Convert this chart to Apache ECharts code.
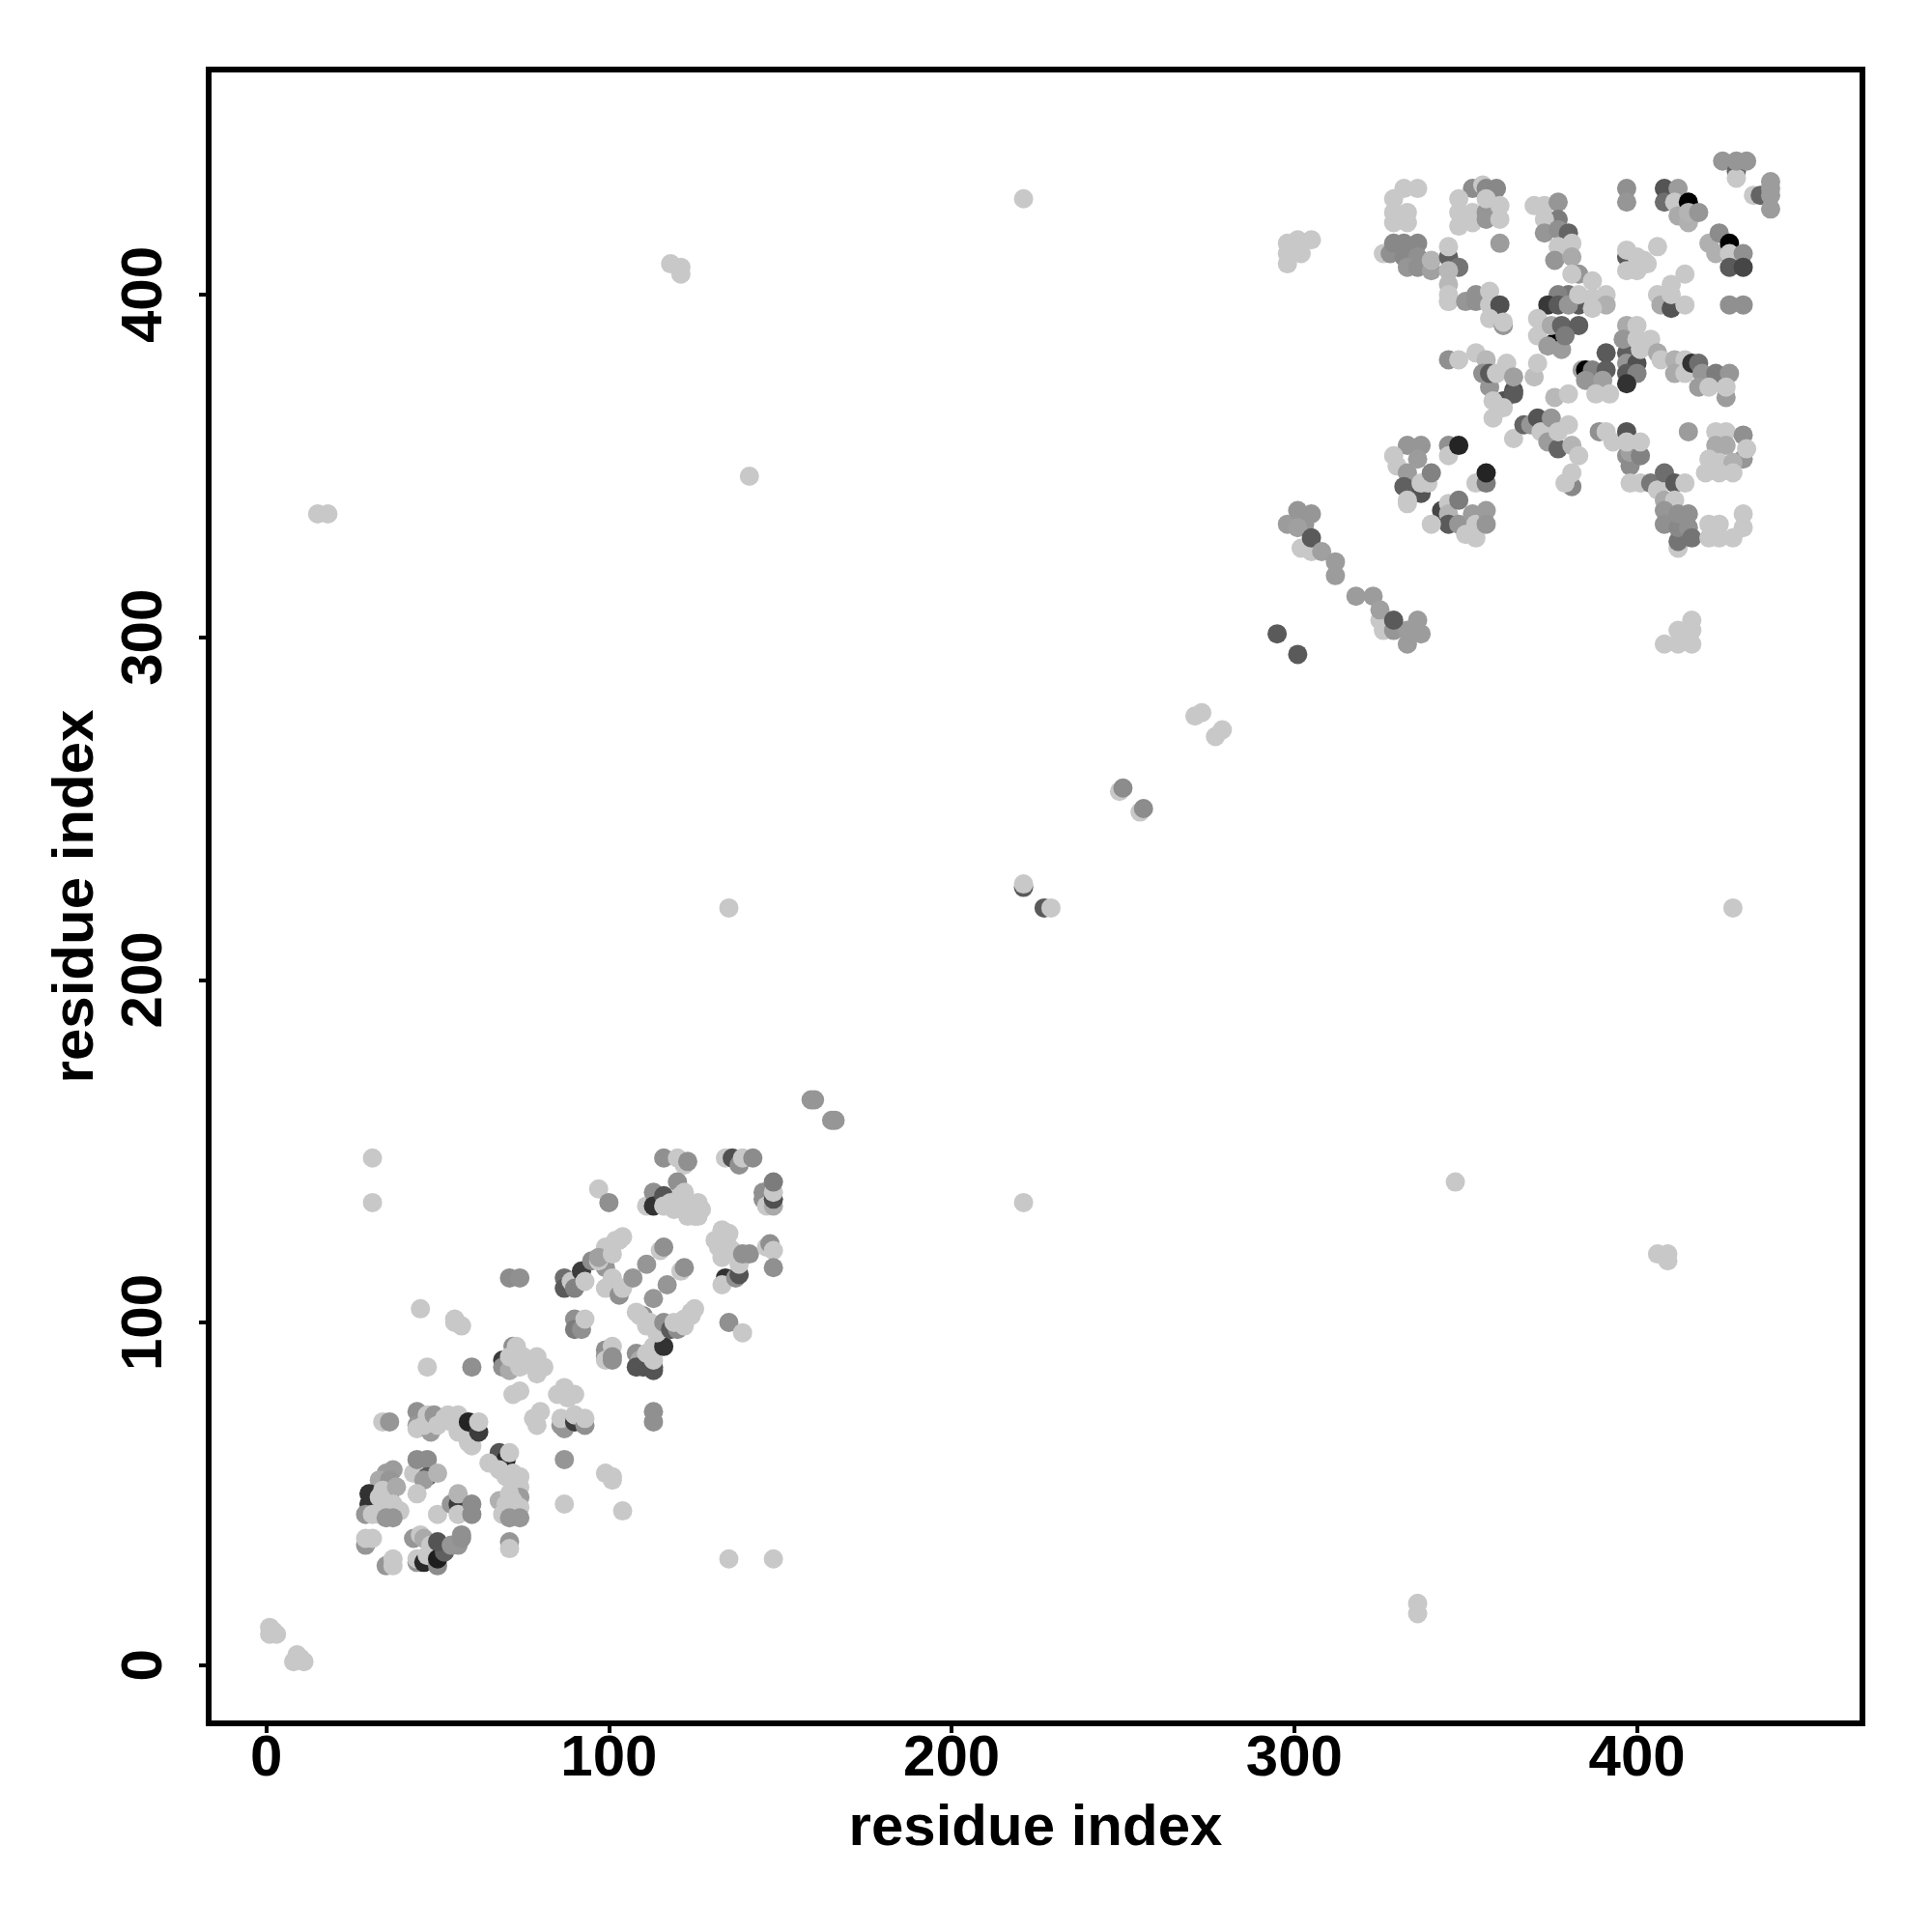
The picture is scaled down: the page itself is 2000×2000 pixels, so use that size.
<!DOCTYPE html>
<html><head><meta charset="utf-8">
<style>html,body{margin:0;padding:0;background:#fff}#c{width:2000px;height:2000px}</style>
<script src="https://cdn.jsdelivr.net/npm/echarts@6/dist/echarts.min.js"></script>
</head><body><div id="c"></div>
<script>
// rows: [residue i, residue j, contact value] ; value 0 = black ... 100 = lightest
const tickValues = [0,100,200,300,400];
const axisTitle = 'residue index';

const farContacts = [
[15,336,100],[18,336,100],[141,347,100],[221,428,100],[118,409,100],[121,406,100],[121,408,100],
[135,221,100],[428,221,100],[221,135,100],[347,141,100],[406,120,100],[409,118,100],[409,120,100],
[31,148,100],[31,135,100],[135,31,100],[148,31,100],[336,18,100],[336,15,100]
];
const originContacts = [[1,11,100],[1,9,100],[3,9,100],[2,10,100],[8,1,100],[9,3,100],[10,2,100],[11,1,100]];
const diagonalChain = [
[159,165,75],[160,165,75],[165,159,75],[166,159,75],
[221,227,45],[221,228,100],[227,221,45],[229,221,100],
[249,255,100],[250,256,70],[255,249,100],[256,250,70],
[271,277,100],[273,278,100],[277,271,100],[279,273,100],
[295,301,45],[301,295,45]
];
const chainUpper = [
[298,333,78],[301,337,75],[305,336,75],[303,333,75],[301,332,80],[302,326,100],[305,325,100],[305,329,45],[308,325,80],
[312,322,78],[312,318,78],[318,312,78],[323,312,78],[326,302,100],[325,305,100],[325,308,80],[329,302,75],
[333,302,78],[336,305,78],[337,301,78],[333,298,78],[329,305,45],
[345,398,100]
];
const blockTopLeft = [
[298,415,100],[301,416,100],[305,416,100],[298,412,100],[302,412,100],[298,409,100],[326,412,100],
[336,431,100],[332,431,100],[329,428,100],[329,424,100],[333,424,100],[329,421,100],[333,421,100],
[328,412,72],[329,415,68],[332,411,68],[332,415,68],[336,415,68],[336,411,72],[333,408,75],[336,408,72],
[340,407,80],[340,410,90],[345,411,48],[345,414,100],[348,408,58],[345,407,92],[345,403,92],[345,400,100],[345,398,100],
[360,415,78],
[352,431,70],[355,432,100],[356,431,68],[359,431,68],[348,428,100],[348,424,100],[348,420,100],[352,421,100],[352,424,100],
[356,424,75],[356,422,75],[356,428,100],[360,426,100],[360,422,100],
[350,398,75],[353,398,72],[353,400,72],[357,401,100],[357,397,100],[360,397,40],[357,393,100],[361,391,75],[361,392,100],
[370,426,100],[373,426,100],[377,427,75],[377,422,62],[373,422,100],[373,418,75],[377,419,72],[380,418,50],[377,414,100],
[376,410,75],[381,415,100],[381,411,85],[383,406,75],[381,406,100],
[380,400,58],[377,400,65],[374,397,28],[377,397,45],[383,397,45],[380,397,75],
[387,404,100],[383,400,100],[387,399,100],[391,400,100],[391,397,88],[387,396,100],
[371,393,100],[371,388,100],[376,386,0],[375,391,85],[378,391,50],[383,391,47],[374,385,78],[378,384,78],[379,388,62],
[391,383,45],[384,378,80],[385,378,0],[387,378,65],[391,378,47],[385,375,75],[390,375,80],[388,371,100],[392,371,100],
[397,431,72],[397,427,75],[397,411,45],[397,413,100],[397,407,100]
];
const blockTopRight = [
[408,431,42],[412,431,78],[408,427,55],[411,427,100],[415,427,0],[412,423,85],[415,421,88],[415,424,90],[418,424,75],
[425,439,75],[429,436,50],[429,434,100],[429,439,75],[432,439,75],
[434,429,100],[436,429,50],[439,433,78],[439,431,78],[439,429,78],[439,425,78],
[421,415,88],[424,418,70],[423,412,88],[427,415,0],[427,412,100],[431,412,72],[427,408,45],[431,408,35],[427,397,72],[431,397,72],
[400,407,100],[402,410,100],[400,411,100],[403,409,100],[406,414,100],
[410,403,100],[406,400,100],[407,397,85],[410,396,42],[414,397,100],[410,400,100],[414,406,100],
[397,383,47],[397,380,75],[400,380,40],[397,377,45],[400,377,65],[397,374,25],
[397,391,85],[400,391,100],[396,387,75],[400,387,100],[404,387,100],
[401,384,100],[406,383,85],[407,381,100],
[411,381,88],[414,381,100],[411,377,85],[414,377,100],[416,380,25],[418,380,55],[419,377,75],[423,377,62],[427,377,75],[418,373,78],[421,373,100],[426,370,78],[426,373,100]
];
const blockMiddle = [
[345,381,72],[348,381,100],[353,383,100],[356,381,92],[356,377,72],[355,377,72],[357,373,75],[357,377,45],[359,377,100],[362,380,100],
[361,369,40],[364,372,40],[364,371,45],[358,369,100],[361,367,100],[364,376,80],[370,376,95],[371,380,100],[376,370,92],[380,371,100],[358,364,100],[364,358,100],
[367,362,50],[369,362,75],[371,364,42],[372,360,100],[374,357,78],[375,364,75],[377,355,50],[377,360,100],[380,362,100],[381,356,90],[383,353,100],[381,344,68],[379,345,100],[381,348,100]
];
const blockLowerLeft = [
[333,356,75],[337,356,75],[329,353,100],[330,350,100],[336,352,78],[333,348,78],[332,344,48],[337,342,42],[339,345,100],[337,345,100],[340,348,65],[333,339,100],[333,340,100],
[345,356,72],[345,353,100],[348,356,18],[353,345,100],[356,345,62],[356,348,18],
[343,337,35],[345,339,100],[345,336,90],[345,333,45],[348,340,62],[340,333,100],[348,333,75],[352,336,78],[350,330,100],[353,329,100],[353,333,100],[356,337,78],[356,333,75]
];
const blockLowerRight = [
[389,360,72],[391,360,100],[393,357,100],[397,360,42],[397,353,72],[398,350,70],[398,354,80],[397,357,100],[401,353,65],[401,357,100],
[415,360,78],
[423,360,100],[426,360,100],[423,356,85],[426,356,85],[431,359,72],[431,352,75],[421,352,100],[424,351,100],[428,351,88],[432,355,100],[420,348,100],[424,348,100],[428,348,100],
[398,345,100],[401,345,100],[404,345,60],[406,343,100],[408,348,55],[411,345,45],[414,345,100],[408,340,85],[411,340,100],
[408,337,75],[408,333,72],[412,326,100],[412,328,58],[412,332,68],[415,332,72],[412,336,72],[415,336,72],[416,329,58],
[421,333,100],[424,333,100],[421,329,100],[424,329,100],[428,329,100],[431,336,100],[431,332,100],
[408,298,100],[412,298,100],[416,298,100],[412,302,100],[416,302,100],[416,305,100]
];
const lowClusterA = [
[43,56,100],[44,60,70],[47,60,70],[47,55,45],[46,54,78],[50,56,90],[44,50,100],
[37,57,78],[35,56,78],[33,54,85],[36,54,75],[36,50,55],[30,50,25],[30,47,25],[33,49,100],[34,46,100],[34,51,100],[38,52,85],[37,47,100],[39,45,100],
[29,44,75],[31,44,100],[33,44,100],[35,43,75],[37,43,75],[50,44,100],
[54,47,75],[56,47,30],[56,44,100],[56,50,90],[60,47,70],[60,44,70],
[29,35,75],[29,37,100],[31,37,100],[35,29,75],[37,31,100],[37,29,100],
[43,37,75],[45,38,100],[46,37,85],[44,30,75],[44,31,100],[46,30,20],[48,35,100],[47,32,100],[50,29,70],[50,31,15],[52,33,48],[50,36,42],[54,35,75],[56,35,75],[57,37,72],[57,38,72],
[71,36,75],[71,34,100]
];
const lowClusterB = [
[68,62,42],[70,60,20],[65,59,100],[71,62,100],[68,57,100],[72,56,100],[70,55,100],[74,55,100],[72,52,100],[74,52,100],[74,49,78],[68,48,88],[72,48,100],[70,47,100],[71,50,100],[74,46,100],
[69,44,100],[71,43,75],[74,43,75],
[87,60,75],[87,47,100],[99,56,100],[101,55,100],[101,54,100],[104,45,100],
[34,71,100],[36,71,75],[44,74,72],[44,70,75],[44,69,100],[48,68,78],[47,73,100],[46,70,100],[49,73,75],[50,70,100],[53,73,100],[52,72,100],[56,73,100],[54,71,100],[56,68,100],[58,68,100],[59,65,100],[60,64,100],
[59,71,18],[62,68,30],[62,71,100],
[45,104,100],[55,101,100],[57,99,100],[55,100,100],[47,87,100],[60,87,72],
[71,113,70],[74,113,72],
[69,89,30],[69,87,72],[71,86,85],[72,93,72],[73,93,100],[73,89,100],[71,90,100],[74,87,100],[75,90,100],[76,88,100],[79,90,100],[81,87,100],[79,85,100],
[72,79,100],[74,80,100],[87,81,100],[85,79,100],[90,79,100],[88,78,100],[80,74,100],[78,72,100],[79,70,100],
[87,69,75],[86,70,75],[86,72,100],[90,71,30],[90,73,100],[93,70,72],[93,72,100],
[113,74,72],[113,71,72]
];
const lowClusterC = [
[87,113,55],[87,110,45],[89,112,100],[90,110,65],[92,115,30],[93,112,100],[95,118,70],[99,116,75],[97,118,100],[99,121,100],[99,122,100],[97,119,80],[101,120,100],[103,124,100],[101,113,100],[99,110,100],[103,108,72],[104,110,100],[102,124,100],[104,125,100],
[107,113,75],[111,117,75],[113,107,75],[115,121,100],[116,122,72],[117,111,75],[121,115,100],[122,116,72],
[90,101,72],[90,98,62],[92,98,72],[93,101,100],
[99,92,72],[99,90,72],[99,89,100],[101,93,100],[101,90,72],[101,89,72],
[110,90,72],[108,91,72],[109,89,85],[110,87,42],[108,87,42],[113,86,42],[113,87,42],[111,91,100],[113,89,100],[113,93,100],[116,93,25],
[110,102,72],[108,103,100],[109,102,100],[111,100,100],[112,100,100],[111,99,100],[114,97,100],[116,100,72],[118,98,45],[120,98,70],[119,100,100],[122,99,100],[122,101,100],[124,102,100],[124,103,100],[125,104,100],
[135,100,72],[139,97,100]
];
const lowClusterD = [
[116,148,72],[120,148,100],[122,146,100],[123,147,72],
[134,148,100],[136,148,40],[138,146,72],[139,148,100],[142,148,70],
[145,138,72],[145,136,72],[146,134,100],[148,134,85],[148,136,40],[148,138,100],[148,141,62],
[97,139,100],[100,135,72],
[111,134,100],[113,138,72],[113,134,25],[116,137,42],[116,134,100],[118,135,100],[119,133,100],[120,141,72],[120,134,100],[122,138,100],[122,135,100],[121,137,100],[124,133,100],[123,131,100],[125,131,100],[126,135,100],[126,131,100],[127,133,100],
[134,113,25],[133,111,100],[137,113,72],[138,114,42],[138,117,100],
[131,124,100],[133,127,100],[135,126,100],[135,122,100],[132,122,100],[134,124,100],[136,121,100],[133,119,100],[139,120,72],[141,120,72],
[146,122,100],[147,123,72],[148,121,100],[148,116,72]
];
const contactGroups = [farContacts,originContacts,diagonalChain,chainUpper,blockTopLeft,blockTopRight,blockMiddle,blockLowerLeft,blockLowerRight,lowClusterA,lowClusterB,lowClusterC,lowClusterD];
const contacts = contactGroups.flat();

const font = {fontFamily:'"Liberation Sans"',fontWeight:'bold',fontSize:60,color:'#000'};
const chart = echarts.init(document.getElementById('c'),null,{renderer:'canvas'});
chart.setOption({
  animation:false,backgroundColor:'#fff',
  grid:{left:216,right:72,top:72,bottom:216,show:true,borderColor:'#000',borderWidth:6,backgroundColor:'transparent',z:5},
  xAxis:{type:'value',min:-16.8,max:465.8,splitLine:{show:false},axisLine:{show:false,onZero:false},
    axisTick:{show:true,length:10,lineStyle:{color:'#000',width:4},customValues:tickValues},
    axisLabel:{margin:7,customValues:tickValues,hideOverlap:false,...font},
    name:axisTitle,nameLocation:'middle',nameGap:109,nameMoveOverlap:false,nameTextStyle:{...font,verticalAlign:'middle'}},
  yAxis:{type:'value',min:-17,max:465.7,splitLine:{show:false},axisLine:{show:false,onZero:false},
    axisTick:{show:true,length:10,lineStyle:{color:'#000',width:4},customValues:tickValues},
    axisLabel:{margin:66,rotate:90,customValues:tickValues,hideOverlap:false,verticalAlign:'middle',align:'center',...font},
    name:axisTitle,nameLocation:'middle',nameGap:137,nameRotate:90,nameMoveOverlap:false,nameTextStyle:{...font,verticalAlign:'middle'}},
  visualMap:{show:false,type:'continuous',dimension:2,min:0,max:100,seriesIndex:0,inRange:{color:['#000000','#c8c8c8']}},
  series:[{type:'scatter',data:contacts,symbol:'circle',symbolSize:20,large:false,itemStyle:{opacity:1},silent:true,z:2}]
});
</script></body></html>
